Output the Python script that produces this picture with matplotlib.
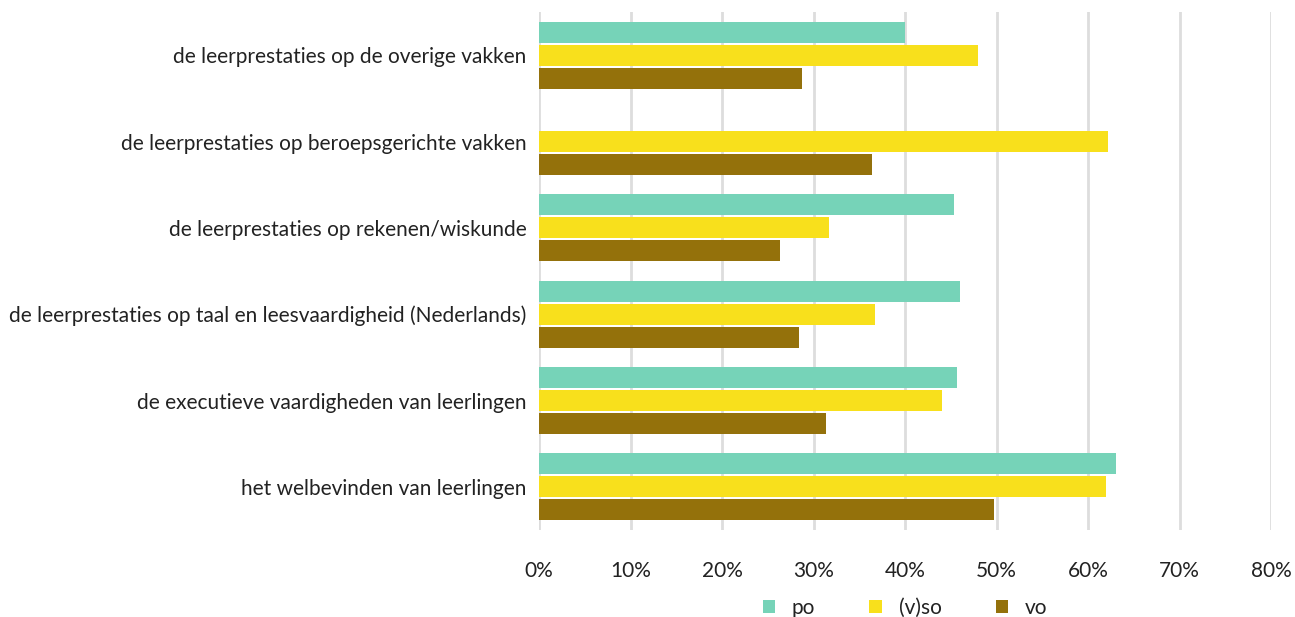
import matplotlib.pyplot as plt
import numpy as np

plt.rcParams['font.family'] = ['Lato', 'DejaVu Sans']

categories = [
    "de leerprestaties op de overige vakken",
    "de leerprestaties op beroepsgerichte vakken",
    "de leerprestaties op rekenen/wiskunde",
    "de leerprestaties op taal en leesvaardigheid (Nederlands)",
    "de executieve vaardigheden van leerlingen",
    "het welbevinden van leerlingen",
]
series = ["po", "(v)so", "vo"]
po = [40.0, np.nan, 45.4, 46.0, 45.7, 63.1]
vso = [48.0, 62.2, 31.7, 36.7, 44.0, 62.0]
vo = [28.7, 36.4, 26.3, 28.4, 31.4, 49.7]
colors = ["#76D3B8", "#F8E01C", "#94710B"]
xticks = [0, 10, 20, 30, 40, 50, 60, 70, 80]

fig = plt.figure(figsize=(12.95, 6.17), dpi=100)
ax = fig.add_axes([539 / 1295, 87 / 617, 732 / 1295, 518 / 617])

y = np.arange(len(categories))
step = 0.267
height = 0.245
for i, (vals, name) in enumerate(zip([po, vso, vo], series)):
    ax.barh(y + (i - 1) * step, vals, height=height, color=colors[i],
            label=name, zorder=3)

ax.set_xlim(0, 80)
ax.set_ylim(len(categories) - 0.5, -0.5)
ax.set_xticks(xticks)
ax.set_xticklabels([f"{t}%" for t in xticks])
ax.set_yticks(y)
ax.set_yticklabels(categories)
ax.grid(axis='x', color='#DDDDDD', linewidth=2, zorder=0)
for s in ax.spines.values():
    s.set_visible(False)
ax.tick_params(axis='both', length=0, labelsize=15, colors='#222222')
ax.tick_params(axis='y', pad=9)
ax.tick_params(axis='x', pad=22)

leg = ax.legend(loc='upper center', bbox_to_anchor=(0.5, -0.095), ncol=3,
                frameon=False, fontsize=15, handlelength=0.6, handleheight=0.6,
                columnspacing=2.6, handletextpad=0.8, labelcolor='#222222')

fig.savefig("out.png", dpi=100)
